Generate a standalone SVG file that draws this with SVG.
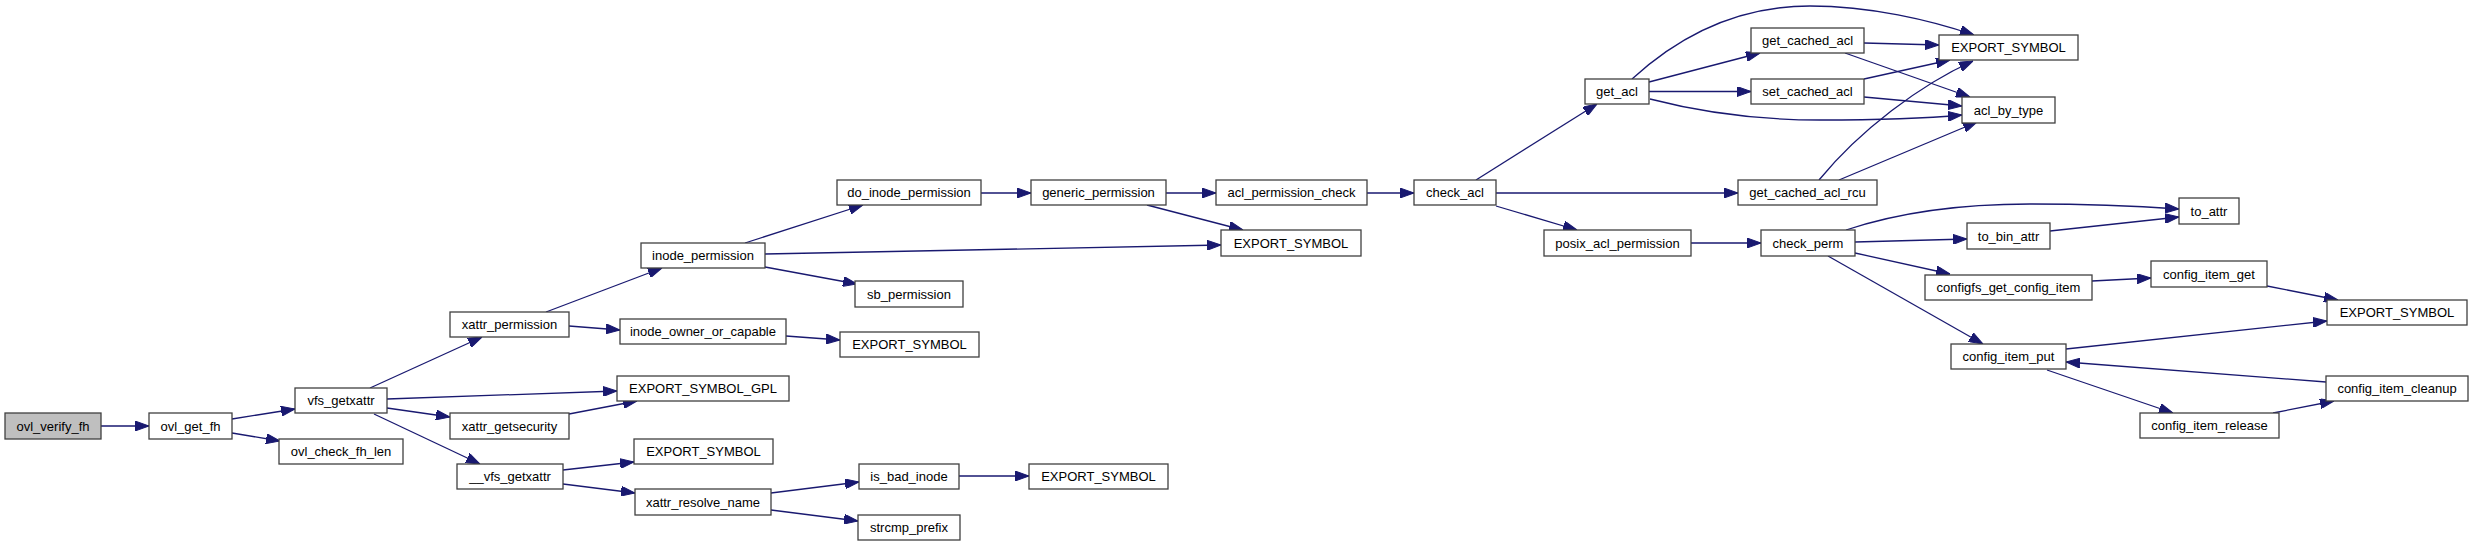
<svg xmlns="http://www.w3.org/2000/svg" width="2473" height="546" viewBox="0 0 2473 546">
<defs>
<marker id="arr" markerUnits="userSpaceOnUse" markerWidth="14" markerHeight="10" refX="14" refY="5" orient="auto">
<path d="M0,0 L14,5 L0,10 z" fill="#191970" stroke="#191970" stroke-width="1"/>
</marker>
</defs>
<style>
.n rect{fill:#ffffff;stroke:#404040;stroke-width:1.3}
.n.root rect{fill:#bfbfbf}
.n text{font-family:"Liberation Sans",Arial,sans-serif;font-size:13px;fill:#000;text-anchor:middle}
#edges path{fill:none;stroke:#191970;stroke-width:1.3;marker-end:url(#arr)}
</style>
<rect width="2473" height="546" fill="#ffffff"/>
<g id="edges">
<path d="M101,426 L149,426"/>
<path d="M232,419 L295,409"/>
<path d="M232,433 L280,441"/>
<path d="M370,388 L482,337"/>
<path d="M387,399 L617,391"/>
<path d="M387,408 L450,417"/>
<path d="M374,414 C400,426 440,445 480,464"/>
<path d="M546,312 L662,268"/>
<path d="M569,326 L620,330"/>
<path d="M569,414 L637,401"/>
<path d="M563,470 L634,462"/>
<path d="M563,484 L635,493"/>
<path d="M771,493 L859,482"/>
<path d="M771,510 L858,521"/>
<path d="M959,476 L1029,476"/>
<path d="M745,243 L863,205"/>
<path d="M765,254 L1221,245"/>
<path d="M765,267 L857,284"/>
<path d="M786,336 L840,340"/>
<path d="M981,193 L1031,193"/>
<path d="M1166,193 L1216,193"/>
<path d="M1147,205 L1243,230"/>
<path d="M1367,193 L1414,193"/>
<path d="M1476,180 L1597,104"/>
<path d="M1496,193 L1738,193"/>
<path d="M1496,206 L1577,230"/>
<path d="M1691,243 L1761,243"/>
<path d="M1632,79 C1680,35 1740,6 1810,6 C1870,6 1930,20 1974,35"/>
<path d="M1649,82 L1760,53"/>
<path d="M1649,91.5 L1751,91.5"/>
<path d="M1650,99 C1700,112 1760,120 1820,120 C1880,120 1930,118 1962,115"/>
<path d="M1864,43 L1939,45"/>
<path d="M1845,53 L1970,97"/>
<path d="M1864,79 L1950,60"/>
<path d="M1864,97 L1962,106"/>
<path d="M1819,180 C1860,130 1920,85 1973,61"/>
<path d="M1839,180 L1977,122"/>
<path d="M1846,230 C1900,212 1960,204 2030,204 C2100,204 2150,207 2179,209"/>
<path d="M1855,242 L1967,239"/>
<path d="M1855,253 L1950,274"/>
<path d="M1828,256 L1983,344"/>
<path d="M2050,231 L2179,217"/>
<path d="M2092,281 L2151,278"/>
<path d="M2267,286 L2338,300"/>
<path d="M2066,349 L2327,321"/>
<path d="M2047,370 L2173,413"/>
<path d="M2273,413 L2334,401"/>
<path d="M2326,382 L2066,362"/>
</g>
<g id="n1" class="n root"><rect x="5" y="413" width="96" height="26"/><text x="53" y="430.5">ovl_verify_fh</text></g>
<g id="n2" class="n"><rect x="149" y="413" width="83" height="26"/><text x="190.5" y="430.5">ovl_get_fh</text></g>
<g id="n3" class="n"><rect x="295" y="388" width="92" height="25"/><text x="341" y="405">vfs_getxattr</text></g>
<g id="n4" class="n"><rect x="279" y="439" width="124" height="25"/><text x="341" y="456">ovl_check_fh_len</text></g>
<g id="n5" class="n"><rect x="450" y="312" width="119" height="25"/><text x="509.5" y="329">xattr_permission</text></g>
<g id="n6" class="n"><rect x="617" y="376" width="172" height="25"/><text x="703" y="393">EXPORT_SYMBOL_GPL</text></g>
<g id="n7" class="n"><rect x="450" y="413" width="119" height="26"/><text x="509.5" y="430.5">xattr_getsecurity</text></g>
<g id="n8" class="n"><rect x="457" y="464" width="106" height="25"/><text x="510" y="481">__vfs_getxattr</text></g>
<g id="n9" class="n"><rect x="641" y="243" width="124" height="25"/><text x="703" y="260">inode_permission</text></g>
<g id="n10" class="n"><rect x="620" y="319" width="166" height="25"/><text x="703" y="336">inode_owner_or_capable</text></g>
<g id="n11" class="n"><rect x="634" y="439" width="139" height="25"/><text x="703.5" y="456">EXPORT_SYMBOL</text></g>
<g id="n12" class="n"><rect x="635" y="489" width="136" height="26"/><text x="703" y="506.5">xattr_resolve_name</text></g>
<g id="n13" class="n"><rect x="837" y="180" width="144" height="25"/><text x="909" y="197">do_inode_permission</text></g>
<g id="n14" class="n"><rect x="1221" y="230" width="140" height="26"/><text x="1291" y="247.5">EXPORT_SYMBOL</text></g>
<g id="n15" class="n"><rect x="855" y="281" width="108" height="26"/><text x="909" y="298.5">sb_permission</text></g>
<g id="n16" class="n"><rect x="840" y="332" width="139" height="25"/><text x="909.5" y="349">EXPORT_SYMBOL</text></g>
<g id="n17" class="n"><rect x="859" y="464" width="100" height="25"/><text x="909" y="481">is_bad_inode</text></g>
<g id="n18" class="n"><rect x="858" y="515" width="102" height="25"/><text x="909" y="532">strcmp_prefix</text></g>
<g id="n19" class="n"><rect x="1029" y="464" width="139" height="25"/><text x="1098.5" y="481">EXPORT_SYMBOL</text></g>
<g id="n20" class="n"><rect x="1031" y="180" width="135" height="25"/><text x="1098.5" y="197">generic_permission</text></g>
<g id="n21" class="n"><rect x="1216" y="180" width="151" height="25"/><text x="1291.5" y="197">acl_permission_check</text></g>
<g id="n22" class="n"><rect x="1414" y="180" width="82" height="25"/><text x="1455" y="197">check_acl</text></g>
<g id="n23" class="n"><rect x="1585" y="79" width="64" height="25"/><text x="1617" y="96">get_acl</text></g>
<g id="n24" class="n"><rect x="1738" y="180" width="139" height="25"/><text x="1807.5" y="197">get_cached_acl_rcu</text></g>
<g id="n25" class="n"><rect x="1544" y="230" width="147" height="26"/><text x="1617.5" y="247.5">posix_acl_permission</text></g>
<g id="n26" class="n"><rect x="1939" y="35" width="139" height="25"/><text x="2008.5" y="52">EXPORT_SYMBOL</text></g>
<g id="n27" class="n"><rect x="1751" y="28" width="113" height="25"/><text x="1807.5" y="45">get_cached_acl</text></g>
<g id="n28" class="n"><rect x="1751" y="79" width="113" height="25"/><text x="1807.5" y="96">set_cached_acl</text></g>
<g id="n29" class="n"><rect x="1962" y="97" width="93" height="26"/><text x="2008.5" y="114.5">acl_by_type</text></g>
<g id="n30" class="n"><rect x="1761" y="230" width="94" height="26"/><text x="1808" y="247.5">check_perm</text></g>
<g id="n31" class="n"><rect x="2179" y="198" width="60" height="26"/><text x="2209" y="215.5">to_attr</text></g>
<g id="n32" class="n"><rect x="1967" y="223" width="83" height="26"/><text x="2008.5" y="240.5">to_bin_attr</text></g>
<g id="n33" class="n"><rect x="1925" y="275" width="167" height="25"/><text x="2008.5" y="292">configfs_get_config_item</text></g>
<g id="n34" class="n"><rect x="1951" y="344" width="115" height="25"/><text x="2008.5" y="361">config_item_put</text></g>
<g id="n35" class="n"><rect x="2151" y="261" width="116" height="26"/><text x="2209" y="278.5">config_item_get</text></g>
<g id="n36" class="n"><rect x="2327" y="300" width="140" height="25"/><text x="2397" y="317">EXPORT_SYMBOL</text></g>
<g id="n37" class="n"><rect x="2140" y="413" width="139" height="25"/><text x="2209.5" y="430">config_item_release</text></g>
<g id="n38" class="n"><rect x="2326" y="376" width="142" height="25"/><text x="2397" y="393">config_item_cleanup</text></g>
</svg>
